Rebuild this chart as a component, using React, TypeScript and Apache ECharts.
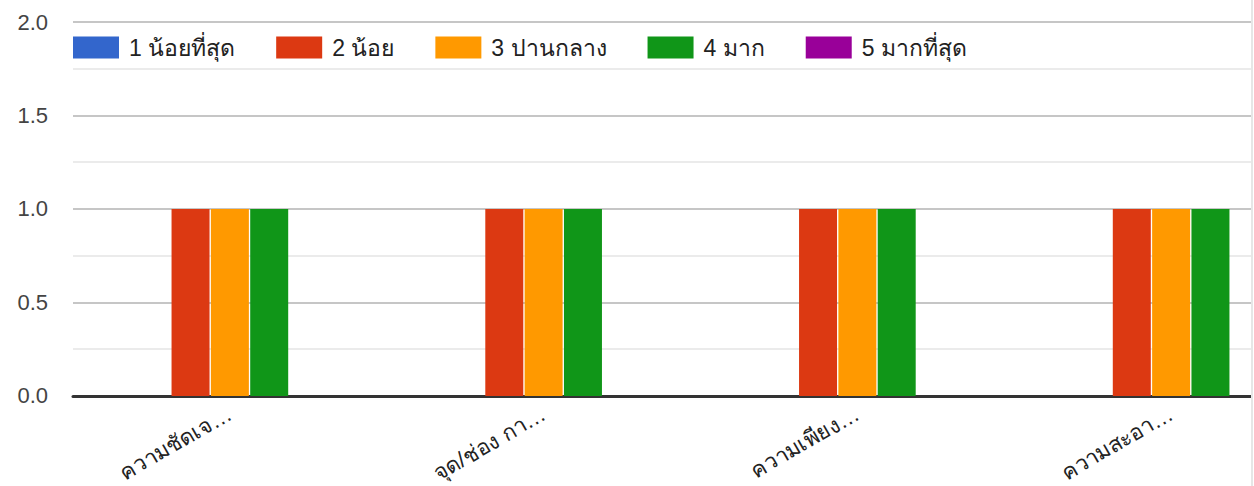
import React, { useEffect, useRef } from "react";
import * as echarts from "echarts";

const categories = ["ความชัดเจ…", "จุด/ช่อง กา…", "ความเพียง…", "ความสะอา…"];
const seriesNames = ["1 น้อยที่สุด", "2 น้อย", "3 ปานกลาง", "4 มาก", "5 มากที่สุด"];
const seriesColors = ["#3366cc", "#dc3912", "#ff9900", "#109618", "#990099"];
const values1 = [0, 0, 0, 0];
const values2 = [1, 1, 1, 1];
const values3 = [1, 1, 1, 1];
const values4 = [1, 1, 1, 1];
const values5 = [0, 0, 0, 0];
const yTicks = { min: 0, max: 2, interval: 0.5 };

export default function App() {
  const ref = useRef<HTMLDivElement>(null);
  useEffect(() => {
    if (!ref.current) return;
    const chart = echarts.init(ref.current, undefined, { renderer: "svg" });
    const allValues = [values1, values2, values3, values4, values5];
    chart.setOption({
      animation: false,
      color: seriesColors,
      textStyle: { fontFamily: "Arial, 'Liberation Sans', sans-serif" },
      legend: {
        left: 73,
        top: 36,
        padding: 0,
        itemWidth: 46,
        itemHeight: 22,
        itemGap: 41,
        icon: "rect",
        textStyle: { fontSize: 23, color: "#222", padding: [0, 0, 0, 5] },
        data: seriesNames,
      },
      grid: { left: 73, right: 2, top: 22, bottom: 90, containLabel: false },
      xAxis: {
        type: "category",
        data: categories,
        axisLine: { show: true, lineStyle: { color: "#333", width: 3 } },
        axisTick: { show: false },
        axisLabel: { rotate: 30, fontSize: 22, color: "#222", margin: 16, interval: 0 },
        splitLine: { show: false },
      },
      yAxis: {
        type: "value",
        min: yTicks.min,
        max: yTicks.max,
        interval: yTicks.interval,
        axisLine: { show: false },
        axisTick: { show: false },
        axisLabel: {
          fontSize: 22,
          color: "#444",
          margin: 25,
          formatter: (v: number) => v.toFixed(1),
        },
        splitLine: { show: true, lineStyle: { color: "#c6c6c6", width: 2 } },
        minorTick: { show: false, splitNumber: 2 },
        minorSplitLine: { show: true, lineStyle: { color: "#ebebeb", width: 2 } },
      },
      series: seriesNames.map((name, i) => ({
        name,
        type: "bar",
        data: allValues[i],
        barWidth: 38,
        barGap: "3.5%",
        itemStyle: { color: seriesColors[i] },
        z: 1,
      })),
    });
    return () => chart.dispose();
  }, []);
  return (
    <div
      style={{
        position: "fixed",
        left: 0,
        top: 0,
        width: 1251,
        height: 486,
        overflow: "hidden",
        background: "#fff",
        borderRight: "2px solid #e6e6e6",
      }}
    >
      <div ref={ref} style={{ width: 1330, height: 486 }} />
    </div>
  );
}
